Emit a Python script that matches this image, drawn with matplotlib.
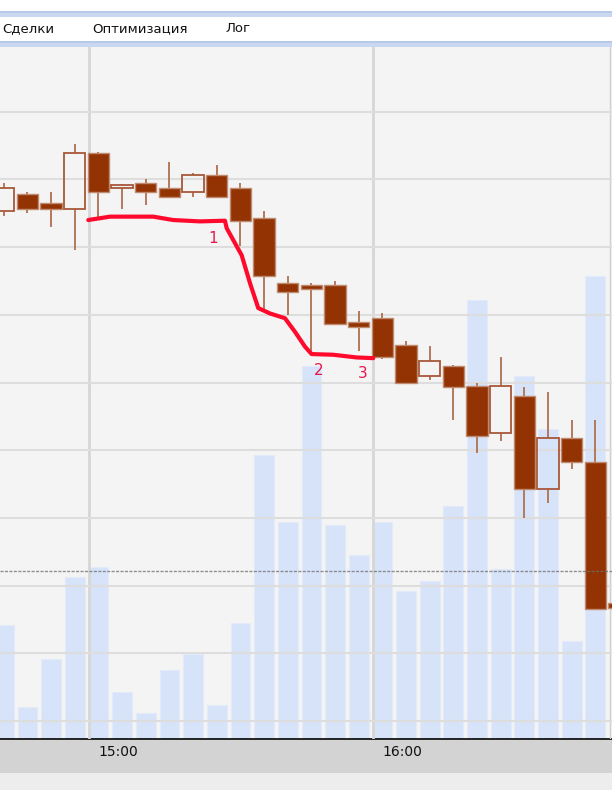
import numpy as np
import matplotlib
matplotlib.use('Agg')
import matplotlib.pyplot as plt
from matplotlib.patches import Rectangle
import matplotlib.transforms as mtransforms

# Свечи 5 мин, время открытия
bar_times = ['14:40', '14:45', '14:50', '14:55', '15:00', '15:05', '15:10', '15:15', '15:20',
             '15:25', '15:30', '15:35', '15:40', '15:45', '15:50', '15:55', '16:00', '16:05',
             '16:10', '16:15', '16:20', '16:25', '16:30', '16:35', '16:40', '16:45', '16:50']
opens = [175.4, 177.9, 176.5, 175.7, 183.9, 178.7, 179.5, 178.8, 178.1, 180.7, 178.8, 174.3, 164.7,
         164.4, 164.4, 159.0, 159.6, 155.5, 151.0, 152.4, 149.5, 142.6, 148.0, 134.2, 141.8, 138.3, 117.4]
highs = [179.4, 178.2, 178.1, 185.2, 184.0, 179.3, 180.1, 182.5, 181.0, 182.1, 179.4, 175.3, 165.7,
         164.7, 165.0, 160.6, 160.2, 156.1, 155.4, 152.6, 149.9, 153.7, 149.3, 148.6, 144.5, 144.5, 117.4]
lows = [174.6, 175.0, 172.9, 169.5, 174.3, 175.7, 176.2, 177.4, 177.4, 177.4, 170.1, 160.9, 159.9,
        154.4, 158.6, 154.7, 153.4, 149.9, 150.3, 144.5, 139.6, 141.3, 130.0, 132.2, 137.2, 116.6, 116.7]
closes = [178.8, 175.7, 175.7, 183.9, 178.1, 179.2, 178.1, 177.4, 180.7, 177.4, 173.9, 165.8, 163.4,
          163.8, 158.6, 158.2, 153.8, 149.9, 153.2, 149.4, 142.1, 149.5, 134.2, 141.8, 138.2, 116.6, 116.7]
volumes = [1140, 320, 800, 1620, 1720, 470, 260, 690, 850, 340, 1160, 2840, 2170, 3730,
           2140, 1840, 2170, 1480, 1580, 2330, 4390, 1700, 3630, 3100, 980, 4630]

# Линия разметки (время, цена) и метки 1-2-3
mark_t = ['14:59.85', '15:04.44', '15:13.58', '15:17.81', '15:23.45', '15:28.73', '15:29.09',
          '15:32.26', '15:34.01', '15:35.76', '15:38.23', '15:41.40', '15:43.51', '15:45.63',
          '15:47.04', '15:51.60', '15:56.55', '16:00.06']
mark_p = [174.0, 174.5, 174.5, 174.0, 173.8, 173.9, 172.8, 168.8, 164.7, 161.0, 160.2, 159.5,
          157.5, 155.3, 154.2, 154.1, 153.7, 153.6]
label_txt = ['1', '2', '3']
label_t = ['15:26.26', '15:48.59', '15:57.73']
label_p = [171.3, 151.7, 151.3]
level_price = 122.2
tab_names = ['Сделки', 'Оптимизация', 'Лог']
tick_names = ['15:00', '16:00']


def to_min(s):
    h, m = s.split(':')
    return int(h) * 60 + float(m) - (14 * 60 + 40)


t_open = np.array([to_min(s) for s in bar_times])
t_mid = t_open + 2.0
W = 612.0
H = 790.0

fig = plt.figure(figsize=(6.12, 7.90), dpi=100)
fig.patch.set_facecolor('white')

# верхние полосы интерфейса
fig.patches.append(Rectangle((0, 1 - 17 / H), 1, 6 / H, transform=fig.transFigure,
                             facecolor='#c9d8f0', edgecolor='none'))
fig.patches.append(Rectangle((0, 1 - 13 / H), 1, 2 / H, transform=fig.transFigure,
                             facecolor='#b7c9e8', edgecolor='none'))
fig.patches.append(Rectangle((0, 1 - 47 / H), 1, 6 / H, transform=fig.transFigure,
                             facecolor='#c9d8f0', edgecolor='none'))
fig.patches.append(Rectangle((0, 1 - 43 / H), 1, 2 / H, transform=fig.transFigure,
                             facecolor='#b7c9e8', edgecolor='none'))
fig.patches.append(Rectangle((0, 0), 1, 17 / H, transform=fig.transFigure,
                             facecolor='#ededed', edgecolor='none'))
for name, x in zip(tab_names, [2, 92, 225]):
    fig.text(x / W, 1 - 28.5 / H, name, fontsize=9.5, color='#111111', va='center', ha='left',
             family='DejaVu Sans')

# область графика
xlim = (1.2, 130.5)
ax_vol = fig.add_axes([0, 51 / H, 1, 692 / H])
ax_vol.set_facecolor('#f4f4f4')
ax_vol.bar(t_mid[:len(volumes)], volumes, width=4.2, color='#d7e3f9', edgecolor='#e3ebfa',
           linewidth=0.8, zorder=1)
ax_vol.set_ylim(0, 6920)
ax_vol.set_xlim(*xlim)
ax_vol.set_xticks([])
ax_vol.set_yticks([])
for s in ['top', 'left', 'right']:
    ax_vol.spines[s].set_visible(False)
ax_vol.spines['bottom'].set_color('black')
ax_vol.spines['bottom'].set_linewidth(1.2)

ax = ax_vol.twinx()
ax.patch.set_visible(False)
ax.set_xlim(*xlim)
ax.set_ylim(97.34, 199.56)
for s in ax.spines.values():
    s.set_visible(False)
ax.set_yticks(np.arange(100, 200, 10))
ax.set_xticks([to_min(s) for s in tick_names])
ax.tick_params(left=False, right=False, bottom=False, labelleft=False, labelright=False,
               labelbottom=False)
ax.grid(True, color='#dddddd', linewidth=1.5, zorder=0)
ax.set_axisbelow(True)
for xv in [to_min(s) for s in tick_names]:
    ax.axvline(xv, color='#d6d6d6', linewidth=2, zorder=0.5)
ax.axvline(130.1, color='#d0d0d0', linewidth=1, zorder=0.5)

# свечи
body_w = 4.5
for i in range(len(opens)):
    o, h, l, c = opens[i], highs[i], lows[i], closes[i]
    top, bot = max(o, c), min(o, c)
    x = t_mid[i]
    ax.vlines(x, top, h, color='#b0704f', linewidth=1.3, zorder=2)
    ax.vlines(x, l, bot, color='#b0704f', linewidth=1.3, zorder=2)
    hgt = max(top - bot, 0.3)
    if c < o:
        ax.add_patch(Rectangle((x - body_w / 2, bot), body_w, hgt, facecolor='#933303',
                               edgecolor='#c08a70', linewidth=1, zorder=3))
    else:
        ax.add_patch(Rectangle((x - body_w / 2, bot), body_w, hgt, facecolor='none',
                               edgecolor='#a8583a', linewidth=1.3, zorder=3))

# красная линия и цифры
ax.plot([to_min(s) for s in mark_t], mark_p, color='#ff0a2c', linewidth=3, solid_capstyle='round',
        solid_joinstyle='round', zorder=5)
for txt, tt, pp in zip(label_txt, label_t, label_p):
    ax.text(to_min(tt), pp, txt, color='#e8174a', fontsize=11, ha='center', va='center', zorder=6)

ax.axhline(level_price, color='#6e6e6e', linewidth=1, linestyle=(0, (2.2, 1)), alpha=0.75, zorder=6)

# шкала времени
ax_t = fig.add_axes([0, 17 / H, 1, 33 / H])
ax_t.set_facecolor('#d3d3d3')
ax_t.set_xlim(*xlim)
ax_t.set_ylim(0, 1)
ax_t.set_xticks([])
ax_t.set_yticks([])
for s in ax_t.spines.values():
    s.set_visible(False)
offset = mtransforms.ScaledTranslation(9 / 100, 0, fig.dpi_scale_trans)
for name in tick_names:
    ax_t.text(to_min(name), 0.63, name, fontsize=10, color='#111111', ha='left', va='center',
              transform=ax_t.transData + offset)

plt.savefig('out.png', dpi=100, facecolor=fig.get_facecolor())
